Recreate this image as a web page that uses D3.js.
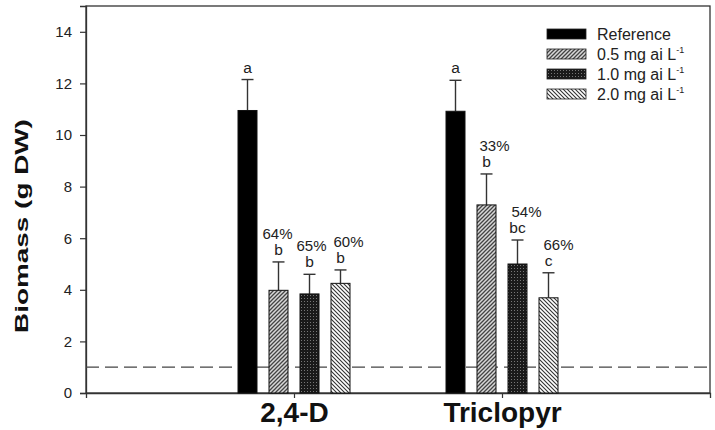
<!DOCTYPE html>
<html><head><meta charset="utf-8">
<script src="https://cdn.jsdelivr.net/npm/d3@7"></script>
<style>body{margin:0;background:#fff}svg{display:block}text{font-family:Arial,"Liberation Sans",sans-serif}</style>
</head><body>
<script>
const groups = ["2,4-D", "Triclopyr"];
const series = ["Reference", "0.5 mg ai L", "1.0 mg ai L", "2.0 mg ai L"];
const meansD = [10.95, 3.98, 3.84, 4.25];
const meansT = [10.92, 7.29, 5.0, 3.69];
const errD = [1.2, 1.1, 0.76, 0.52];
const errT = [1.2, 1.2, 0.93, 0.97];
const lettersD = ["a", "b", "b", "b"];
const lettersT = ["a", "b", "bc", "c"];
const pctD = ["", "64%", "65%", "60%"];
const pctT = ["", "33%", "54%", "66%"];
const yTicks = [0, 2, 4, 6, 8, 10, 12, 14];
const threshold = 1;

const W = 715, H = 430;
const svg = d3.select("body").append("svg").attr("width", W).attr("height", H);
const defs = svg.append("defs");
// patterns
const p1 = defs.append("pattern").attr("id","p05").attr("patternUnits","userSpaceOnUse").attr("width",4).attr("height",4);
p1.append("rect").attr("width",4).attr("height",4).attr("fill","#d8d8d8");
p1.append("path").attr("d","M-1,1 l2,-2 M0,4 l4,-4 M3,5 l2,-2").attr("stroke","#444").attr("stroke-width",1.3);
const p2 = defs.append("pattern").attr("id","p10").attr("patternUnits","userSpaceOnUse").attr("width",3).attr("height",3);
p2.append("rect").attr("width",3).attr("height",3).attr("fill","#1a1a1a");
p2.append("rect").attr("x",1).attr("y",1).attr("width",1).attr("height",1).attr("fill","#777");
const p3 = defs.append("pattern").attr("id","p20").attr("patternUnits","userSpaceOnUse").attr("width",4).attr("height",4);
p3.append("rect").attr("width",4).attr("height",4).attr("fill","#fff");
p3.append("path").attr("d","M-1,3 l2,2 M0,0 l4,4 M3,-1 l2,2").attr("stroke","#333").attr("stroke-width",1.1);
const fills = ["#000", "url(#p05)", "url(#p10)", "url(#p20)"];

const x = d3.scaleLinear().domain([0, 3]).range([86, 710]);
const y = d3.scaleLinear().domain([0, 15]).range([393, 6]);
const unit = x(1) - x(0);
const gap = 31 / 208, bw = 19 / 208;
const axisColor = "#333";

// frame
svg.append("rect").attr("x", x(0)).attr("y", y(15)).attr("width", x(3) - x(0)).attr("height", y(0) - y(15))
  .attr("fill", "none").attr("stroke", axisColor).attr("stroke-width", 1.3);

// y axis
const yAxis = svg.append("g").attr("transform", `translate(${x(0)},0)`)
  .call(d3.axisLeft(y).tickValues(yTicks).tickSize(6).tickPadding(8));
yAxis.select(".domain").attr("stroke", axisColor).attr("stroke-width", 1.3);
yAxis.selectAll(".tick line").attr("stroke", axisColor).attr("stroke-width", 1.2);
yAxis.selectAll(".tick text").attr("font-size", 15).attr("fill", "#222").attr("font-family", "Arial, Liberation Sans, sans-serif");

// x axis
const xAxis = svg.append("g").attr("transform", `translate(0,${y(0)})`)
  .call(d3.axisBottom(x).tickValues([1, 2]).tickFormat((d) => groups[d - 1]).tickSize(5).tickPadding(6));
xAxis.select(".domain").attr("stroke", axisColor).attr("stroke-width", 1.3);
xAxis.selectAll(".tick line").attr("stroke", axisColor).attr("stroke-width", 1.2);
xAxis.selectAll(".tick text").attr("font-size", 28).attr("font-weight", "bold").attr("fill", "#111")
  .attr("y", 29).attr("dy", 0)
  .attr("font-family", "Arial, Liberation Sans, sans-serif");

// threshold dashed line
svg.append("line").attr("x1", x(0)).attr("x2", x(3)).attr("y1", y(threshold)).attr("y2", y(threshold))
  .attr("stroke", "#444").attr("stroke-width", 1.3).attr("stroke-dasharray", "13,6");

// bars
const data = [
  {g: 1, means: meansD, errs: errD, letters: lettersD, pct: pctD},
  {g: 2, means: meansT, errs: errT, letters: lettersT, pct: pctT}
];
const pctNudge = [[0, -1, 2, 8], [0, 8, 9, 10]];
data.forEach((grp, gi) => {
  grp.means.forEach((m, i) => {
    const cx = x(grp.g + (i - 1.5) * gap);
    const w = bw * unit;
    const top = y(m + grp.errs[i]);
    svg.append("line").attr("x1", cx).attr("x2", cx).attr("y1", y(m)).attr("y2", top)
      .attr("stroke", "#333").attr("stroke-width", 1.4);
    svg.append("line").attr("x1", cx - 6).attr("x2", cx + 6).attr("y1", top).attr("y2", top)
      .attr("stroke", "#333").attr("stroke-width", 1.4);
    svg.append("rect").attr("x", cx - w / 2).attr("y", y(m)).attr("width", w).attr("height", y(0) - y(m))
      .attr("fill", fills[i]).attr("stroke", "#111").attr("stroke-width", 1);
    svg.append("text").attr("x", cx).attr("y", top - 7).attr("text-anchor", "middle")
      .attr("font-size", 15.5).attr("fill", "#222").text(grp.letters[i]);
    if (grp.pct[i]) svg.append("text").attr("x", cx + pctNudge[gi][i]).attr("y", top - 23).attr("text-anchor", "middle")
      .attr("font-size", 15).attr("fill", "#222").text(grp.pct[i]);
  });
});

// legend
const lg = svg.append("g").attr("transform", "translate(547,29)");
series.forEach((s, i) => {
  const r = lg.append("g").attr("transform", `translate(0,${i * 20})`);
  r.append("rect").attr("width", 39).attr("height", 10).attr("fill", fills[i]).attr("stroke", "#222").attr("stroke-width", 0.8);
  const t = r.append("text").attr("x", 50).attr("y", 11).attr("font-size", 16).attr("fill", "#222").text(s);
  if (i > 0) t.append("tspan").attr("font-size", 9).attr("dy", -7).text("-1");
});

// y label
svg.append("text").attr("transform", `translate(28,226) rotate(-90) scale(1.55,1)`)
  .attr("text-anchor", "middle").attr("font-size", 18).attr("font-weight", "bold").attr("fill", "#111")
  .text("Biomass (g DW)");
</script>
</body></html>
